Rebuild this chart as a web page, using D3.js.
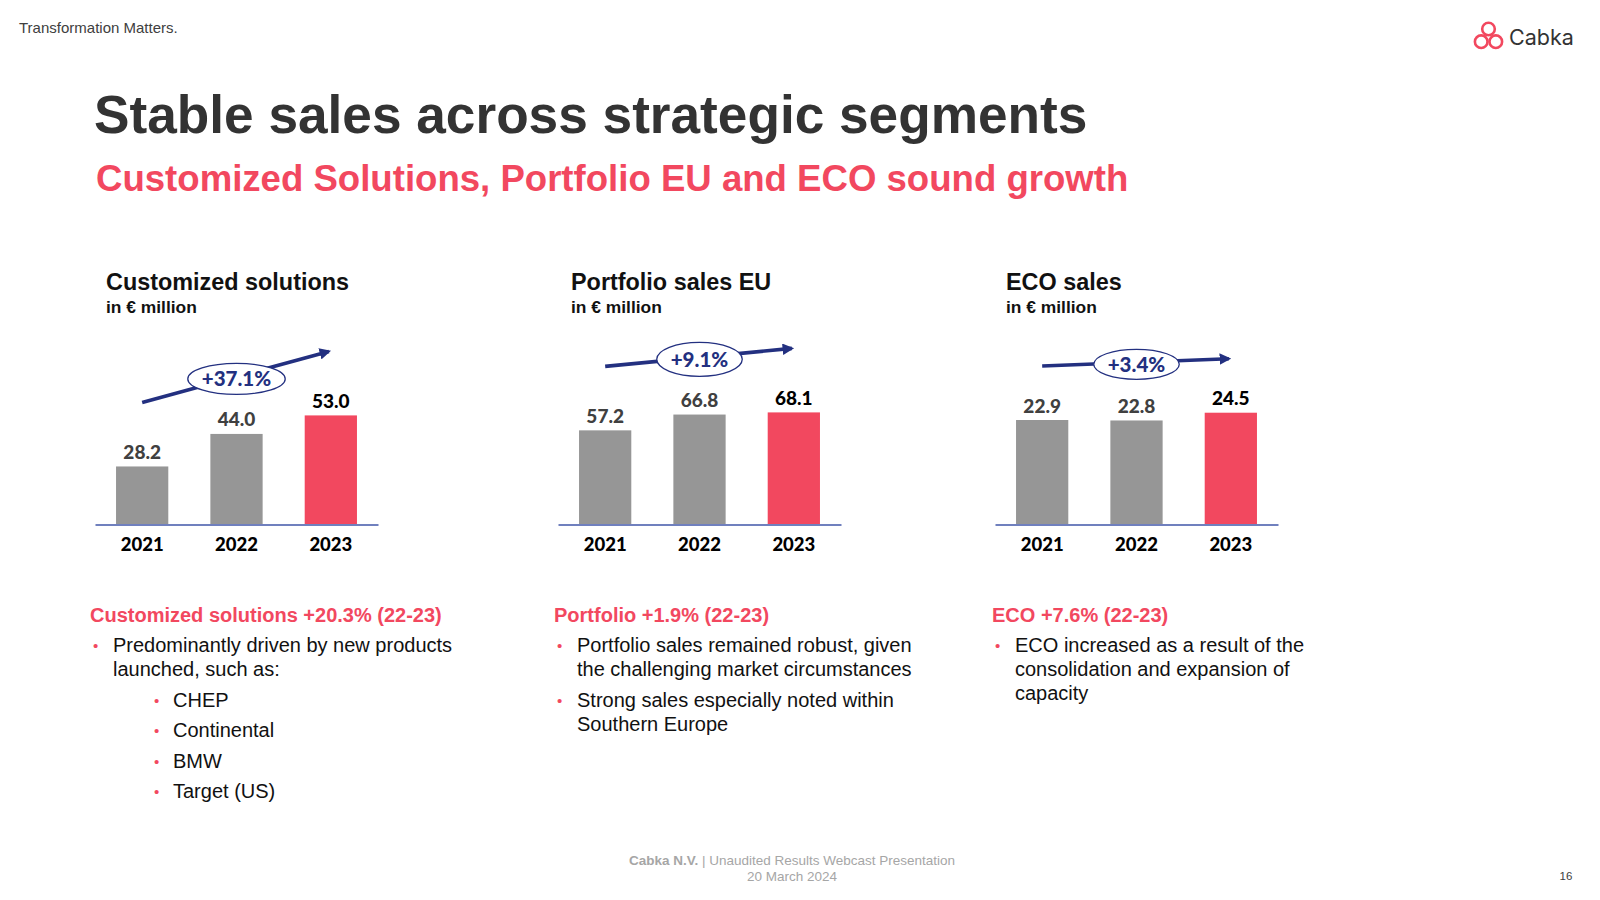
<!DOCTYPE html>
<html>
<head>
<meta charset="utf-8">
<script src="https://cdn.jsdelivr.net/npm/d3@7"></script>
<style>
  html, body { margin: 0; padding: 0; background: #fff; }
  svg { display: block; }
</style>
</head>
<body>
<svg id="chart" width="1600" height="900"></svg>
<script>
// ---------- DATA ----------
const years = ["2021", "2022", "2023"];
const customizedValues = [28.2, 44.0, 53.0];
const portfolioValues = [57.2, 66.8, 68.1];
const ecoValues = [22.9, 22.8, 24.5];
const panelTitles = ["Customized solutions", "Portfolio sales EU", "ECO sales"];
const panelUnit = "in € million";
const cagrLabels = ["+37.1%", "+9.1%", "+3.4%"];
const commentHeads = ["Customized solutions +20.3% (22-23)", "Portfolio +1.9% (22-23)", "ECO +7.6% (22-23)"];

// ---------- LAYOUT ----------
const svg = d3.select("#chart");
const RED = "#F2485F", GREY = "#969696", NAVY = "#233080", AXIS = "#7080BE";
const baseY = 524.5;

const panels = [
  { x0: 95,  values: customizedValues, yMax: 58.3, arrowOff: 64, titleDx: 11, ry: 15.5 },
  { x0: 558, values: portfolioValues,  yMax: 72.9, arrowOff: 64, titleDx: 13, ry: 17 },
  { x0: 995, values: ecoValues,        yMax: 26.3, arrowOff: 54, titleDx: 11, ry: 15 }
];
const panelW = 283;

// header
svg.append("text").attr("x", 19).attr("y", 33).text("Transformation Matters.")
  .attr("font-family", "Liberation Sans, Arial, sans-serif").attr("font-size", 15).attr("fill", "#404040");

// logo
const logo = svg.append("g").attr("fill", "none").attr("stroke", RED).attr("stroke-width", 2.6);
[[1488.5, 29], [1481.2, 41.7], [1495.8, 41.7]].forEach(c =>
  logo.append("circle").attr("cx", c[0]).attr("cy", c[1]).attr("r", 6.3));
svg.append("text").attr("x", 1509).attr("y", 45).text("Cabka")
  .attr("font-family", "Inter, Roboto, sans-serif").attr("font-size", 21.5).attr("fill", "#333");

// titles
svg.append("text").attr("x", 94).attr("y", 133).text("Stable sales across strategic segments")
  .attr("font-family", "Liberation Sans, Arial, sans-serif").attr("font-weight", "bold")
  .attr("font-size", 53.2).attr("fill", "#333333");
svg.append("text").attr("x", 96).attr("y", 191).text("Customized Solutions, Portfolio EU and ECO sound growth")
  .attr("font-family", "Liberation Sans, Arial, sans-serif").attr("font-weight", "bold")
  .attr("font-size", 36.6).attr("fill", RED);

// marker
svg.append("defs").append("marker").attr("id", "arrowhead")
  .attr("viewBox", "0 0 10 10").attr("refX", 8).attr("refY", 5)
  .attr("markerWidth", 3.2).attr("markerHeight", 3.2).attr("orient", "auto")
  .append("path").attr("d", "M0,0 L10,5 L0,10 Z").attr("fill", NAVY);

panels.forEach((p, i) => {
  const g = svg.append("g");
  const x = d3.scaleBand().domain(years).range([p.x0, p.x0 + panelW]).paddingInner(0.446).paddingOuter(0.223);
  const y = d3.scaleLinear().domain([0, p.yMax]).range([baseY, baseY - 120]);

  g.append("text").attr("x", p.x0 + p.titleDx).attr("y", 290).text(panelTitles[i])
    .attr("font-family", "Liberation Sans, Arial, sans-serif").attr("font-weight", "bold")
    .attr("font-size", 23.4).attr("fill", "#111");
  g.append("text").attr("x", p.x0 + p.titleDx).attr("y", 312.5).text(panelUnit)
    .attr("font-family", "Liberation Sans, Arial, sans-serif").attr("font-weight", "bold")
    .attr("font-size", 17.4).attr("fill", "#111");

  // bars
  g.selectAll("rect.bar").data(p.values).join("rect").attr("class", "bar")
    .attr("x", (d, j) => x(years[j])).attr("width", x.bandwidth())
    .attr("y", d => y(d)).attr("height", d => baseY - y(d))
    .attr("fill", (d, j) => j === years.length - 1 ? RED : GREY);

  // value labels
  g.selectAll("text.val").data(p.values).join("text").attr("class", "val")
    .attr("x", (d, j) => x(years[j]) + x.bandwidth() / 2).attr("y", d => y(d) - 7.5)
    .attr("text-anchor", "middle").text(d => d.toFixed(1))
    .attr("font-family", "Lato, sans-serif").attr("font-weight", "900").attr("font-size", 19)
    .attr("fill", (d, j) => j === years.length - 1 ? "#000" : "#404040");

  // axis
  const axis = d3.axisBottom(x).tickSize(0).tickPadding(13.5);
  const ax = g.append("g").attr("transform", `translate(0,${baseY})`).call(axis);
  ax.select(".domain").attr("stroke", AXIS).attr("stroke-width", 2);
  ax.selectAll(".tick text").attr("font-family", "Lato, sans-serif").attr("font-weight", "900")
    .attr("font-size", 18.5).attr("fill", "#000").attr("dy", "0.71em");

  // growth arrow
  const n = p.values.length;
  const x1 = x(years[0]) + x.bandwidth() / 2, y1 = y(p.values[0]) - p.arrowOff;
  const x2 = x(years[n - 1]) + x.bandwidth() / 2, y2 = y(p.values[n - 1]) - p.arrowOff;
  g.append("line").attr("x1", x1).attr("y1", y1).attr("x2", x2 - 2).attr("y2", y2)
    .attr("stroke", NAVY).attr("stroke-width", 3.6).attr("marker-end", "url(#arrowhead)");
  const cx = (x1 + x2) / 2, cy = (y1 + y2) / 2 + 2;
  const ell = g.append("ellipse").attr("cx", cx).attr("cy", cy).attr("ry", p.ry)
    .attr("fill", "#fff").attr("stroke", NAVY).attr("stroke-width", 1.3);
  const lbl = g.append("text").attr("x", cx).attr("y", cy).attr("dy", "0.36em")
    .attr("text-anchor", "middle").text(cagrLabels[i])
    .attr("font-family", "Lato, sans-serif").attr("font-weight", "900").attr("font-size", 20.5).attr("fill", NAVY);
  const tw = lbl.node().getComputedTextLength();
  ell.attr("rx", tw / 2 + 14);
});

// commentary
const comments = [
  { x: 90, lines: [
      { t: "Predominantly driven by new products", b: true, lvl: 0, y: 652 },
      { t: "launched, such as:", lvl: 0, y: 676 },
      { t: "CHEP", b: true, lvl: 1, y: 706.5 },
      { t: "Continental", b: true, lvl: 1, y: 737 },
      { t: "BMW", b: true, lvl: 1, y: 767.5 },
      { t: "Target (US)", b: true, lvl: 1, y: 798 } ] },
  { x: 554, lines: [
      { t: "Portfolio sales remained robust, given", b: true, lvl: 0, y: 652 },
      { t: "the challenging market circumstances", lvl: 0, y: 676 },
      { t: "Strong sales especially noted within", b: true, lvl: 0, y: 706.5 },
      { t: "Southern Europe", lvl: 0, y: 730.5 } ] },
  { x: 992, lines: [
      { t: "ECO increased as a result of the", b: true, lvl: 0, y: 652 },
      { t: "consolidation and expansion of", lvl: 0, y: 676 },
      { t: "capacity", lvl: 0, y: 700 } ] }
];
comments.forEach((c, i) => {
  const g = svg.append("g").attr("font-family", "Liberation Sans, Arial, sans-serif");
  g.append("text").attr("x", c.x).attr("y", 621.5).text(commentHeads[i])
    .attr("font-weight", "bold").attr("font-size", 20).attr("fill", RED);
  c.lines.forEach(l => {
    const bx = c.x + 3 + (l.lvl ? 61 : 0);
    const tx = c.x + 23 + (l.lvl ? 60 : 0);
    if (l.b) g.append("text").attr("x", bx).attr("y", l.y - 1).text("•")
      .attr("font-size", 15).attr("fill", RED);
    g.append("text").attr("x", tx).attr("y", l.y).text(l.t)
      .attr("font-size", 20).attr("fill", "#111");
  });
});

// footer
const ft = svg.append("text").attr("x", 792).attr("y", 865).attr("text-anchor", "middle")
  .attr("font-family", "Liberation Sans, Arial, sans-serif").attr("font-size", 13.5).attr("fill", "#A6A6A6");
ft.append("tspan").attr("font-weight", "bold").text("Cabka N.V.");
ft.append("tspan").text(" | Unaudited Results Webcast Presentation");
svg.append("text").attr("x", 792).attr("y", 880.5).attr("text-anchor", "middle").text("20 March 2024")
  .attr("font-family", "Liberation Sans, Arial, sans-serif").attr("font-size", 13.5).attr("fill", "#A6A6A6");
svg.append("text").attr("x", 1566).attr("y", 880).attr("text-anchor", "middle").text("16")
  .attr("font-family", "Liberation Sans, Arial, sans-serif").attr("font-size", 11.5).attr("fill", "#404040");
</script>
</body>
</html>
